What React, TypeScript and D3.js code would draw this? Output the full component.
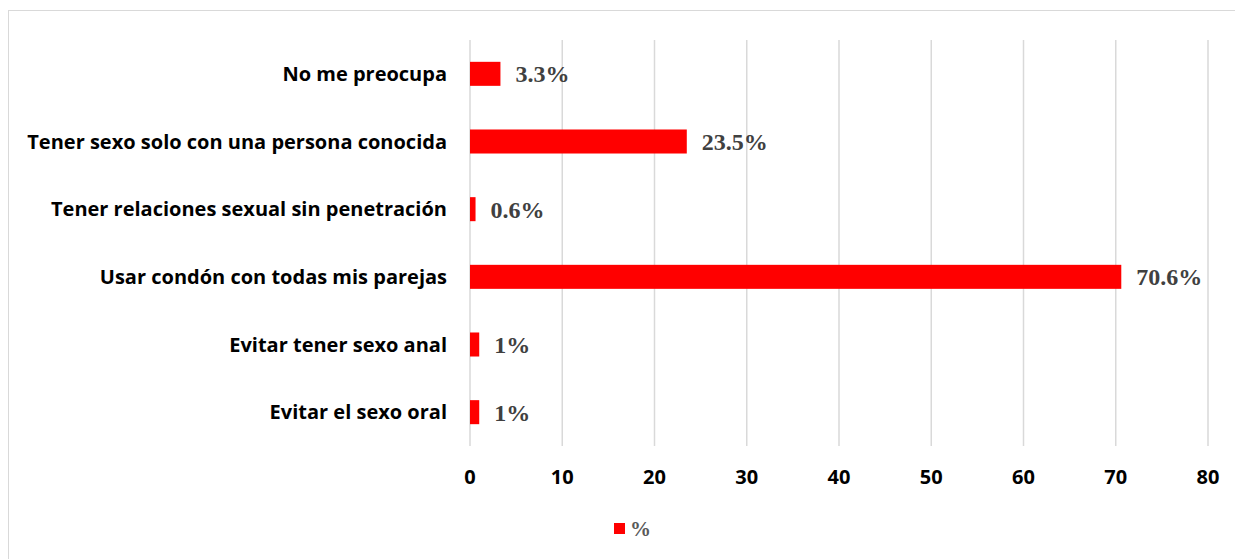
import React from "react";
import * as d3 from "d3";

const categories = [
  "No me preocupa",
  "Tener sexo solo con una persona conocida",
  "Tener relaciones sexual sin penetración",
  "Usar condón con todas mis parejas",
  "Evitar tener sexo anal",
  "Evitar el sexo oral",
];
const values = [3.3, 23.5, 0.6, 70.6, 1, 1];
const valueLabels = ["3.3%", "23.5%", "0.6%", "70.6%", "1%", "1%"];
const xTicks = [0, 10, 20, 30, 40, 50, 60, 70, 80];
const seriesName = "%";

const W = 1235;
const H = 559;
const plotLeft = 470;
const plotRight = 1208;
const plotTop = 40;
const plotBottom = 446;

export default function App() {
  const x = d3.scaleLinear().domain([0, 80]).range([plotLeft, plotRight]);
  const y = d3
    .scaleBand<string>()
    .domain(categories)
    .range([plotTop, plotBottom])
    .paddingInner(0.645)
    .paddingOuter(0.3225);
  const catFont = "'Open Sans', sans-serif";
  const serif = "'Liberation Serif', 'Times New Roman', serif";
  return (
    <svg
      width={W}
      height={H}
      style={{ position: "absolute", left: 0, top: 0, background: "#fff" }}
    >
      <rect x={8.5} y={10.5} width={1300} height={700} fill="#fff" stroke="#d9d9d9" strokeWidth={1} />
      {xTicks.map((t) => (
        <line
          key={"g" + t}
          x1={x(t)}
          x2={x(t)}
          y1={plotTop}
          y2={plotBottom}
          stroke="#d9d9d9"
          strokeWidth={1.5}
        />
      ))}
      {categories.map((c, i) => (
        <rect
          key={"b" + c}
          x={x(0)}
          y={y(c)}
          width={x(values[i]) - x(0)}
          height={y.bandwidth()}
          fill="#ff0000"
        />
      ))}
      {categories.map((c, i) => (
        <text
          key={"v" + c}
          x={x(values[i]) + 15}
          y={(y(c) as number) + y.bandwidth() / 2}
          dy="0.35em"
          fontFamily={serif}
          fontWeight="bold"
          fontSize={24}
          fill="#404040"
        >
          {valueLabels[i]}
        </text>
      ))}
      {categories.map((c) => (
        <text
          key={"c" + c}
          x={447}
          y={(y(c) as number) + y.bandwidth() / 2}
          dy="0.35em"
          textAnchor="end"
          fontFamily={catFont}
          fontWeight="bold"
          fontSize={20}
          fill="#000"
        >
          {c}
        </text>
      ))}
      {xTicks.map((t) => (
        <text
          key={"t" + t}
          x={x(t)}
          y={477}
          dy="0.35em"
          textAnchor="middle"
          fontFamily={catFont}
          fontWeight="bold"
          fontSize={20}
          fill="#000"
        >
          {t}
        </text>
      ))}
      <rect x={614} y={523} width={11} height={11} fill="#ff0000" />
      <text
        x={630}
        y={529}
        dy="0.35em"
        fontFamily={serif}
        fontWeight="bold"
        fontSize={21}
        fill="#595959"
      >
        {seriesName}
      </text>
    </svg>
  );
}
